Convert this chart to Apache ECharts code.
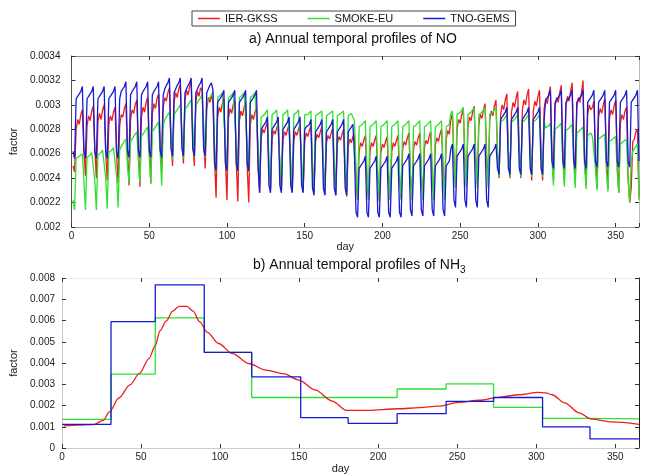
<!DOCTYPE html>
<html><head><meta charset="utf-8">
<script src="https://cdn.jsdelivr.net/npm/echarts@6/dist/echarts.min.js"></script>
<style>html,body{margin:0;padding:0;background:#fff}#c{width:646px;height:475px}</style>
</head><body><div id="c"></div>
<script>
// ---------------- DATA ----------------
const seriesNames = ['IER-GKSS', 'SMOKE-EU', 'TNO-GEMS'];
const xTickValues = [0, 50, 100, 150, 200, 250, 300, 350];

// a) NO daily factors. One row per week: [Sat, Sun, Mon, Tue, Wed, Thu, Fri]; day 1 = Sat 1 Jan
const noIerWeeks = [
[0.00250,0.00245,0.00280,0.00288,0.00284,0.00292,0.00296],
[0.00262,0.00242,0.00283,0.00291,0.00287,0.00295,0.00299],
[0.00264,0.00240,0.00286,0.00293,0.00288,0.00296,0.00300],
[0.00262,0.00238,0.00284,0.00291,0.00287,0.00294,0.00298],
[0.00260,0.00236,0.00283,0.00292,0.00290,0.00297,0.00301],
[0.00262,0.00234,0.00288,0.00296,0.00293,0.00300,0.00304],
[0.00264,0.00233,0.00290,0.00298,0.00294,0.00302,0.00306],
[0.00266,0.00236,0.00293,0.00301,0.00297,0.00305,0.00309],
[0.00270,0.00245,0.00298,0.00306,0.00303,0.00310,0.00314],
[0.00272,0.00250,0.00302,0.00310,0.00306,0.00313,0.00317],
[0.00274,0.00252,0.00304,0.00312,0.00308,0.00315,0.00319],
[0.00272,0.00250,0.00303,0.00311,0.00307,0.00314,0.00312],
[0.00270,0.00248,0.00296,0.00306,0.00302,0.00308,0.00302],
[0.00256,0.00224,0.00290,0.00298,0.00294,0.00301,0.00305],
[0.00254,0.00222,0.00289,0.00297,0.00293,0.00300,0.00304],
[0.00252,0.00221,0.00287,0.00295,0.00291,0.00298,0.00302],
[0.00250,0.00220,0.00284,0.00292,0.00288,0.00294,0.00298],
[0.00248,0.00228,0.00273,0.00280,0.00277,0.00282,0.00286],
[0.00250,0.00230,0.00272,0.00279,0.00276,0.00281,0.00285],
[0.00250,0.00230,0.00271,0.00278,0.00275,0.00280,0.00284],
[0.00249,0.00229,0.00271,0.00278,0.00275,0.00280,0.00284],
[0.00249,0.00229,0.00270,0.00277,0.00274,0.00279,0.00283],
[0.00248,0.00228,0.00270,0.00276,0.00273,0.00278,0.00282],
[0.00247,0.00227,0.00269,0.00275,0.00272,0.00277,0.00281],
[0.00246,0.00226,0.00268,0.00274,0.00271,0.00276,0.00280],
[0.00244,0.00225,0.00266,0.00272,0.00269,0.00274,0.00276],
[0.00240,0.00222,0.00262,0.00269,0.00266,0.00271,0.00275],
[0.00240,0.00222,0.00262,0.00269,0.00266,0.00271,0.00275],
[0.00239,0.00221,0.00261,0.00268,0.00265,0.00270,0.00274],
[0.00240,0.00222,0.00262,0.00269,0.00266,0.00271,0.00275],
[0.00241,0.00223,0.00264,0.00270,0.00267,0.00273,0.00277],
[0.00242,0.00224,0.00264,0.00270,0.00267,0.00273,0.00277],
[0.00242,0.00224,0.00265,0.00271,0.00268,0.00274,0.00278],
[0.00244,0.00226,0.00267,0.00273,0.00270,0.00276,0.00280],
[0.00248,0.00228,0.00272,0.00279,0.00276,0.00288,0.00293],
[0.00254,0.00232,0.00280,0.00288,0.00285,0.00292,0.00297],
[0.00256,0.00234,0.00282,0.00290,0.00287,0.00294,0.00299],
[0.00258,0.00235,0.00284,0.00292,0.00289,0.00296,0.00301],
[0.00260,0.00236,0.00287,0.00295,0.00291,0.00299,0.00304],
[0.00262,0.00240,0.00292,0.00300,0.00296,0.00304,0.00309],
[0.00262,0.00240,0.00294,0.00302,0.00298,0.00306,0.00311],
[0.00263,0.00240,0.00296,0.00304,0.00300,0.00308,0.00313],
[0.00262,0.00238,0.00295,0.00303,0.00299,0.00307,0.00312],
[0.00262,0.00238,0.00297,0.00305,0.00301,0.00309,0.00315],
[0.00262,0.00238,0.00298,0.00306,0.00302,0.00310,0.00316],
[0.00263,0.00237,0.00299,0.00307,0.00303,0.00311,0.00318],
[0.00262,0.00236,0.00298,0.00306,0.00302,0.00310,0.00320],
[0.00258,0.00234,0.00292,0.00300,0.00296,0.00298,0.00303],
[0.00256,0.00232,0.00290,0.00297,0.00293,0.00300,0.00305],
[0.00255,0.00231,0.00289,0.00296,0.00292,0.00299,0.00304],
[0.00252,0.00228,0.00285,0.00292,0.00288,0.00295,0.00298],
[0.00240,0.00220,0.00232,0.00270,0.00272,0.00278,0.00280],
[0.00225]
];
const noSmokeWeeks = [
[0.00222,0.00214,0.00256,0.00257,0.00258,0.00259,0.00260],
[0.00238,0.00214,0.00257,0.00258,0.00259,0.00261,0.00262],
[0.00238,0.00214,0.00259,0.00260,0.00261,0.00263,0.00264],
[0.00240,0.00215,0.00261,0.00262,0.00263,0.00265,0.00266],
[0.00242,0.00216,0.00263,0.00266,0.00268,0.00270,0.00272],
[0.00250,0.00236,0.00270,0.00272,0.00274,0.00276,0.00278],
[0.00254,0.00236,0.00274,0.00276,0.00278,0.00280,0.00282],
[0.00257,0.00235,0.00278,0.00280,0.00282,0.00284,0.00286],
[0.00262,0.00234,0.00283,0.00288,0.00290,0.00292,0.00294],
[0.00274,0.00255,0.00292,0.00294,0.00296,0.00298,0.00300],
[0.00278,0.00256,0.00296,0.00298,0.00300,0.00302,0.00304],
[0.00282,0.00257,0.00300,0.00302,0.00304,0.00306,0.00308],
[0.00285,0.00257,0.00302,0.00304,0.00306,0.00308,0.00311],
[0.00268,0.00245,0.00306,0.00307,0.00308,0.00310,0.00311],
[0.00268,0.00245,0.00306,0.00307,0.00308,0.00310,0.00311],
[0.00268,0.00245,0.00306,0.00307,0.00308,0.00310,0.00311],
[0.00268,0.00245,0.00306,0.00307,0.00308,0.00310,0.00311],
[0.00268,0.00232,0.00290,0.00291,0.00292,0.00294,0.00296],
[0.00255,0.00232,0.00292,0.00293,0.00294,0.00296,0.00297],
[0.00255,0.00232,0.00292,0.00293,0.00294,0.00296,0.00297],
[0.00255,0.00232,0.00292,0.00293,0.00294,0.00296,0.00297],
[0.00255,0.00232,0.00292,0.00293,0.00292,0.00293,0.00295],
[0.00253,0.00230,0.00291,0.00292,0.00293,0.00294,0.00295],
[0.00253,0.00230,0.00291,0.00292,0.00293,0.00294,0.00295],
[0.00253,0.00230,0.00291,0.00292,0.00293,0.00294,0.00295],
[0.00253,0.00230,0.00291,0.00292,0.00293,0.00294,0.00287],
[0.00245,0.00222,0.00282,0.00283,0.00284,0.00285,0.00287],
[0.00245,0.00222,0.00282,0.00283,0.00284,0.00285,0.00287],
[0.00245,0.00222,0.00282,0.00283,0.00284,0.00285,0.00287],
[0.00245,0.00222,0.00282,0.00283,0.00284,0.00285,0.00287],
[0.00245,0.00222,0.00282,0.00283,0.00284,0.00285,0.00287],
[0.00245,0.00222,0.00282,0.00283,0.00284,0.00285,0.00287],
[0.00245,0.00222,0.00282,0.00283,0.00284,0.00285,0.00287],
[0.00245,0.00222,0.00282,0.00283,0.00284,0.00285,0.00287],
[0.00245,0.00222,0.00282,0.00283,0.00284,0.00293,0.00295],
[0.00255,0.00232,0.00292,0.00293,0.00294,0.00296,0.00298],
[0.00255,0.00232,0.00292,0.00293,0.00294,0.00296,0.00298],
[0.00255,0.00232,0.00292,0.00293,0.00294,0.00296,0.00298],
[0.00255,0.00232,0.00292,0.00293,0.00294,0.00296,0.00298],
[0.00262,0.00241,0.00286,0.00287,0.00288,0.00290,0.00292],
[0.00262,0.00241,0.00286,0.00287,0.00288,0.00290,0.00292],
[0.00262,0.00241,0.00286,0.00287,0.00288,0.00290,0.00292],
[0.00262,0.00241,0.00286,0.00287,0.00288,0.00290,0.00292],
[0.00262,0.00241,0.00286,0.00281,0.00282,0.00283,0.00285],
[0.00255,0.00234,0.00280,0.00281,0.00282,0.00283,0.00285],
[0.00254,0.00233,0.00279,0.00280,0.00281,0.00282,0.00284],
[0.00252,0.00232,0.00277,0.00278,0.00279,0.00280,0.00282],
[0.00250,0.00231,0.00275,0.00276,0.00277,0.00274,0.00275],
[0.00248,0.00230,0.00272,0.00273,0.00274,0.00275,0.00276],
[0.00246,0.00229,0.00270,0.00271,0.00272,0.00273,0.00274],
[0.00245,0.00228,0.00268,0.00269,0.00270,0.00271,0.00272],
[0.00240,0.00220,0.00255,0.00262,0.00264,0.00266,0.00268],
[0.00222]
];
const noTnoWeeks = [
[0.00262,0.00256,0.00305,0.00307,0.00309,0.00311,0.00315],
[0.00262,0.00256,0.00305,0.00307,0.00309,0.00311,0.00315],
[0.00262,0.00256,0.00305,0.00307,0.00309,0.00311,0.00315],
[0.00262,0.00256,0.00305,0.00307,0.00309,0.00311,0.00315],
[0.00262,0.00256,0.00305,0.00311,0.00313,0.00315,0.00319],
[0.00263,0.00257,0.00308,0.00311,0.00313,0.00315,0.00319],
[0.00263,0.00257,0.00308,0.00311,0.00313,0.00315,0.00319],
[0.00263,0.00257,0.00308,0.00311,0.00313,0.00315,0.00319],
[0.00263,0.00257,0.00308,0.00313,0.00316,0.00318,0.00322],
[0.00264,0.00258,0.00310,0.00313,0.00316,0.00318,0.00322],
[0.00264,0.00258,0.00310,0.00313,0.00316,0.00318,0.00322],
[0.00264,0.00258,0.00310,0.00313,0.00316,0.00318,0.00322],
[0.00264,0.00258,0.00310,0.00313,0.00316,0.00318,0.00312],
[0.00252,0.00246,0.00302,0.00304,0.00306,0.00308,0.00312],
[0.00252,0.00246,0.00302,0.00304,0.00306,0.00308,0.00312],
[0.00252,0.00246,0.00302,0.00304,0.00306,0.00308,0.00312],
[0.00252,0.00246,0.00302,0.00304,0.00306,0.00308,0.00312],
[0.00252,0.00228,0.00280,0.00282,0.00284,0.00286,0.00290],
[0.00234,0.00228,0.00280,0.00282,0.00284,0.00286,0.00290],
[0.00234,0.00228,0.00280,0.00282,0.00284,0.00286,0.00290],
[0.00234,0.00228,0.00280,0.00282,0.00284,0.00286,0.00290],
[0.00234,0.00228,0.00280,0.00282,0.00282,0.00284,0.00288],
[0.00232,0.00226,0.00278,0.00280,0.00282,0.00284,0.00288],
[0.00232,0.00226,0.00278,0.00280,0.00282,0.00284,0.00288],
[0.00232,0.00226,0.00278,0.00280,0.00282,0.00284,0.00288],
[0.00232,0.00226,0.00278,0.00280,0.00282,0.00284,0.00258],
[0.00212,0.00208,0.00248,0.00250,0.00252,0.00254,0.00258],
[0.00212,0.00208,0.00248,0.00250,0.00252,0.00254,0.00258],
[0.00212,0.00208,0.00248,0.00250,0.00252,0.00254,0.00258],
[0.00212,0.00208,0.00248,0.00250,0.00252,0.00254,0.00258],
[0.00212,0.00208,0.00250,0.00252,0.00254,0.00256,0.00260],
[0.00214,0.00209,0.00250,0.00252,0.00254,0.00256,0.00260],
[0.00214,0.00209,0.00250,0.00252,0.00254,0.00256,0.00260],
[0.00214,0.00209,0.00250,0.00252,0.00254,0.00256,0.00260],
[0.00214,0.00209,0.00250,0.00252,0.00254,0.00264,0.00268],
[0.00222,0.00216,0.00258,0.00260,0.00262,0.00264,0.00268],
[0.00222,0.00216,0.00258,0.00260,0.00262,0.00264,0.00268],
[0.00222,0.00216,0.00258,0.00260,0.00262,0.00264,0.00268],
[0.00222,0.00216,0.00258,0.00260,0.00262,0.00264,0.00268],
[0.00248,0.00243,0.00288,0.00290,0.00292,0.00294,0.00298],
[0.00248,0.00243,0.00288,0.00290,0.00292,0.00294,0.00298],
[0.00248,0.00243,0.00288,0.00290,0.00292,0.00294,0.00298],
[0.00248,0.00243,0.00288,0.00290,0.00292,0.00294,0.00298],
[0.00248,0.00243,0.00288,0.00304,0.00306,0.00308,0.00312],
[0.00254,0.00248,0.00302,0.00304,0.00306,0.00308,0.00312],
[0.00254,0.00248,0.00302,0.00304,0.00306,0.00308,0.00312],
[0.00254,0.00248,0.00302,0.00304,0.00306,0.00308,0.00312],
[0.00254,0.00248,0.00302,0.00304,0.00306,0.00308,0.00312],
[0.00254,0.00249,0.00302,0.00304,0.00306,0.00308,0.00312],
[0.00254,0.00249,0.00302,0.00304,0.00306,0.00308,0.00312],
[0.00254,0.00249,0.00302,0.00304,0.00306,0.00308,0.00312],
[0.00254,0.00249,0.00302,0.00304,0.00306,0.00308,0.00312],
[0.00254]
];

// b) NH3: monthly step profiles (value holds from month start to next month start)
const monthStart = [0, 31, 59, 90, 120, 151, 181, 212, 243, 273, 304, 334, 365];
const nh3SmokeMonthly = [0.00135, 0.00348, 0.00612, 0.00450, 0.00238, 0.00238, 0.00238, 0.00278, 0.00302, 0.00192, 0.00140, 0.00137];
const nh3TnoMonthly = [0.00112, 0.00595, 0.00768, 0.00450, 0.00335, 0.00143, 0.00116, 0.00162, 0.00220, 0.00238, 0.00100, 0.00043];
// b) NH3: IER-GKSS read at these days
const nh3IerDay = [1, 10, 20, 26, 30, 36, 43, 49, 55, 59, 62, 66, 70, 74, 79, 83, 87, 92, 99, 108, 118, 129, 140, 150, 160, 171, 180, 192, 213, 226, 238, 251, 264, 276, 289, 301, 306, 310, 318, 327, 335, 348, 365];
const nh3IerVal = [0.00105, 0.00108, 0.00110, 0.00130, 0.00170, 0.00236, 0.00297, 0.00351, 0.00421, 0.00482, 0.00552, 0.00598, 0.00644, 0.00667, 0.00667, 0.00644, 0.00595, 0.00544, 0.00492, 0.00444, 0.00398, 0.00367, 0.00350, 0.00320, 0.00274, 0.00221, 0.00177, 0.00177, 0.00185, 0.00190, 0.00197, 0.00215, 0.00225, 0.00239, 0.00251, 0.00262, 0.00260, 0.00251, 0.00213, 0.00166, 0.00136, 0.00123, 0.00112];

// ---------------- BUILD ----------------
const colors = ['#ee1c1c', '#2fe02f', '#1a1ad2'];
const FONT = '"Liberation Sans", Arial, Helvetica, sans-serif';

function weeksToPoints(rows) {
  const out = []; let d = 1;
  rows.forEach(r => r.forEach(v => { out.push([d, v]); d++; }));
  return out;
}
function monthlyToPoints(vals) {
  return monthStart.map((d, i) => [d, vals[Math.min(i, vals.length - 1)]]);
}
const fmtY = v => String(Number(v.toFixed(5)));
const fmtX = v => (xTickValues.indexOf(v) >= 0 ? String(v) : '');

function xAx(grid, pos, show, lineColor, name, nameGap) {
  return {
    type: 'value', gridIndex: grid, position: pos, min: 0, max: 365, interval: 50,
    axisLine: { show: true, onZero: false, lineStyle: { color: lineColor, width: 1 } },
    axisTick: { show: true, inside: true, length: 4, lineStyle: { color: '#333' } },
    axisLabel: { show: show, formatter: fmtX, fontSize: 10, color: '#222', margin: 4, fontFamily: FONT },
    splitLine: { show: false },
    name: name || '', nameLocation: 'middle', nameGap: nameGap || 0,
    nameTextStyle: { fontSize: 11, color: '#222', fontFamily: FONT, padding: [0, 20, 0, 0] }
  };
}
function yAx(grid, pos, show, lineColor, min, max, interval, margin) {
  return {
    type: 'value', gridIndex: grid, position: pos, min: min, max: max, interval: interval,
    axisLine: { show: true, onZero: false, lineStyle: { color: lineColor, width: 1 } },
    axisTick: { show: true, inside: true, length: 4, lineStyle: { color: '#333' } },
    axisLabel: { show: show, formatter: fmtY, fontSize: 10, color: '#222', margin: margin, fontFamily: FONT },
    splitLine: { show: false },
    name: show ? 'factor' : '', nameLocation: 'middle', nameRotate: 90, nameGap: show ? (grid === 0 ? 38 : 36) : 0,
    nameTextStyle: { fontSize: 11, color: '#222', fontFamily: FONT }
  };
}

const lineStyle = (c) => ({ color: c, width: 1.3 });
const chart = echarts.init(document.getElementById('c'), null, { renderer: 'canvas' });
chart.setOption({
  animation: false,
  backgroundColor: '#fff',
  color: colors,
  title: [
    { text: 'a) Annual temporal profiles of NO', left: 249, top: 32,
      textStyle: { fontSize: 14, fontWeight: 'normal', color: '#111', fontFamily: FONT }, padding: 0 },
    { text: '{t|b) Annual temporal profiles of NH}{s|3}', left: 253, top: 256, padding: 0,
      textStyle: { fontWeight: 'normal', rich: {
        t: { fontSize: 14, fontWeight: 'normal', color: '#111', fontFamily: FONT, verticalAlign: 'bottom', lineHeight: 16 },
        s: { fontSize: 10, fontWeight: 'normal', color: '#111', fontFamily: FONT, verticalAlign: 'bottom', lineHeight: 12, padding: [0, 0, -3, 0] }
      } } }
  ],
  legend: {
    data: seriesNames, left: 192, top: 11, orient: 'horizontal', icon: 'rect',
    itemWidth: 22, itemHeight: 1.5, itemGap: 30, padding: [2, 6],
    borderColor: '#444', borderWidth: 1,
    textStyle: { fontSize: 11, color: '#111', fontFamily: FONT }
  },
  grid: [
    { left: 64, top: 56, width: 575, height: 171 },
    { left: 62, top: 278, width: 577, height: 173 }
  ],
  xAxis: [
    xAx(0, 'bottom', true, '#999', 'day', 13),
    xAx(0, 'top', false, '#888'),
    xAx(1, 'bottom', true, '#ccc', 'day', 13),
    xAx(1, 'top', false, '#eee')
  ],
  yAxis: [
    yAx(0, 'left', true, '#555', 0.002, 0.0034, 0.0002, 11),
    yAx(0, 'right', false, '#bbb', 0.002, 0.0034, 0.0002, 8),
    yAx(1, 'left', true, '#ccc', 0, 0.008, 0.001, 7),
    yAx(1, 'right', false, '#222', 0, 0.008, 0.001, 8)
  ],
  series: [
    { name: seriesNames[0], type: 'line', xAxisIndex: 0, yAxisIndex: 0, symbol: 'none', lineStyle: lineStyle(colors[0]), data: weeksToPoints(noIerWeeks) },
    { name: seriesNames[1], type: 'line', xAxisIndex: 0, yAxisIndex: 0, symbol: 'none', lineStyle: lineStyle(colors[1]), data: weeksToPoints(noSmokeWeeks) },
    { name: seriesNames[2], type: 'line', xAxisIndex: 0, yAxisIndex: 0, symbol: 'none', lineStyle: lineStyle(colors[2]), data: weeksToPoints(noTnoWeeks) },
    { name: seriesNames[1], type: 'line', xAxisIndex: 2, yAxisIndex: 2, symbol: 'none', step: 'end', lineStyle: lineStyle(colors[1]), data: monthlyToPoints(nh3SmokeMonthly) },
    { name: seriesNames[0], type: 'line', xAxisIndex: 2, yAxisIndex: 2, symbol: 'none', smooth: 0.3, smoothMonotone: 'x', lineStyle: lineStyle(colors[0]), data: nh3IerDay.map((d, i) => [d, nh3IerVal[i]]) },
    { name: seriesNames[2], type: 'line', xAxisIndex: 2, yAxisIndex: 2, symbol: 'none', step: 'end', lineStyle: lineStyle(colors[2]), data: monthlyToPoints(nh3TnoMonthly) }
  ]
});
</script>
</body></html>
